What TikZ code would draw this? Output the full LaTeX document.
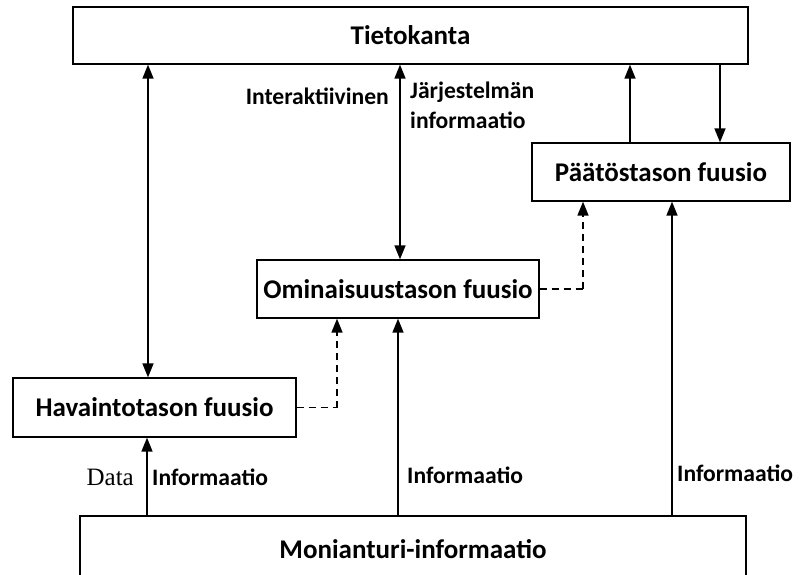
\documentclass[tikz,border=0pt]{standalone}
\usepackage{fontspec}
\setmainfont{Carlito}
\newfontfamily\serifdata{Liberation Serif}
\usetikzlibrary{arrows.meta}
\begin{document}
\begin{tikzpicture}[x=1pt,y=-1pt,
  box/.style={draw, line width=1.3pt, inner sep=0pt, font=\bfseries\fontsize{27}{31}\selectfont},
  lbl/.style={inner sep=0pt, font=\bfseries\fontsize{23.6}{28}\selectfont},
  arr/.style={line width=1.6pt, -{Triangle[width=11pt,length=14pt]}},
  barr/.style={line width=1.6pt, {Triangle[width=11pt,length=14pt]}-{Triangle[width=11pt,length=14pt]}},
  darr/.style={line width=1.6pt, dash pattern=on 7pt off 5pt, -{Triangle[width=11pt,length=14pt]}},
  dline/.style={line width=1.6pt, dash pattern=on 7pt off 5pt}]
\useasboundingbox (0,0) rectangle (806,574);
\clip (0,0) rectangle (806,574);

% boxes
\node[box, minimum width=675pt, minimum height=57pt] (tieto) at (410.5,35.5) {Tietokanta};
\node[box, minimum width=258pt, minimum height=58pt] (paat) at (661,172) {Päätöstason fuusio};
\node[box, minimum width=282pt, minimum height=58pt] (omin) at (398,289) {Ominaisuustason fuusio};
\node[box, minimum width=283pt, minimum height=59pt] (hav) at (154.5,407.5) {Havaintotason fuusio};
\node[box, minimum width=666pt, minimum height=68pt] (moni) at (413,550) {};
\node[box, draw=none] (monitxt) at (413,549) {Monianturi-informaatio};

% vertical positions of the connectors
\coordinate (xa) at (148,0);
\coordinate (xb) at (400,0);
\coordinate (xc) at (630,0);
\coordinate (xd) at (720,0);
\coordinate (xe) at (337,0);
\coordinate (xf) at (583,0);
\coordinate (xg) at (147,0);
\coordinate (xh) at (398,0);
\coordinate (xi) at (672,0);

% database links
\draw[barr] (tieto.south -| xa) -- (hav.north -| xa);
\draw[barr] (tieto.south -| xb) -- (omin.north -| xb);
\draw[arr] (paat.north -| xc) -- (tieto.south -| xc);
\draw[arr] (tieto.south -| xd) -- (paat.north -| xd);

% fusion level links
\draw[dline] (hav.east) -- (hav.east -| xe);
\draw[darr] (hav.east -| xe) -- (omin.south -| xe);
\draw[dline] (omin.east) -- (omin.east -| xf);
\draw[darr] (omin.east -| xf) -- (paat.south -| xf);

% sensor inputs
\draw[arr] (moni.north -| xg) -- (hav.south -| xg);
\draw[arr] (moni.north -| xh) -- (omin.south -| xh);
\draw[arr] (moni.north -| xi) -- (paat.south -| xi);

% labels
\node[lbl, anchor=east] (inter) at (389,96) {Interaktiivinen};
\node[lbl, anchor=west] (jarj) at (410,92) {Järjestelmän};
\node[lbl, anchor=west] (info0) at (410,120) {informaatio};
\node[inner sep=0pt, anchor=east, font=\serifdata\fontsize{25}{29}\selectfont] (data) at (134,477) {Data};
\node[lbl, anchor=west] (info1) at (152,477) {Informaatio};
\node[lbl, anchor=west] (info2) at (407,475) {Informaatio};
\node[lbl, anchor=west] (info3) at (677,473) {Informaatio};
\end{tikzpicture}
\end{document}
